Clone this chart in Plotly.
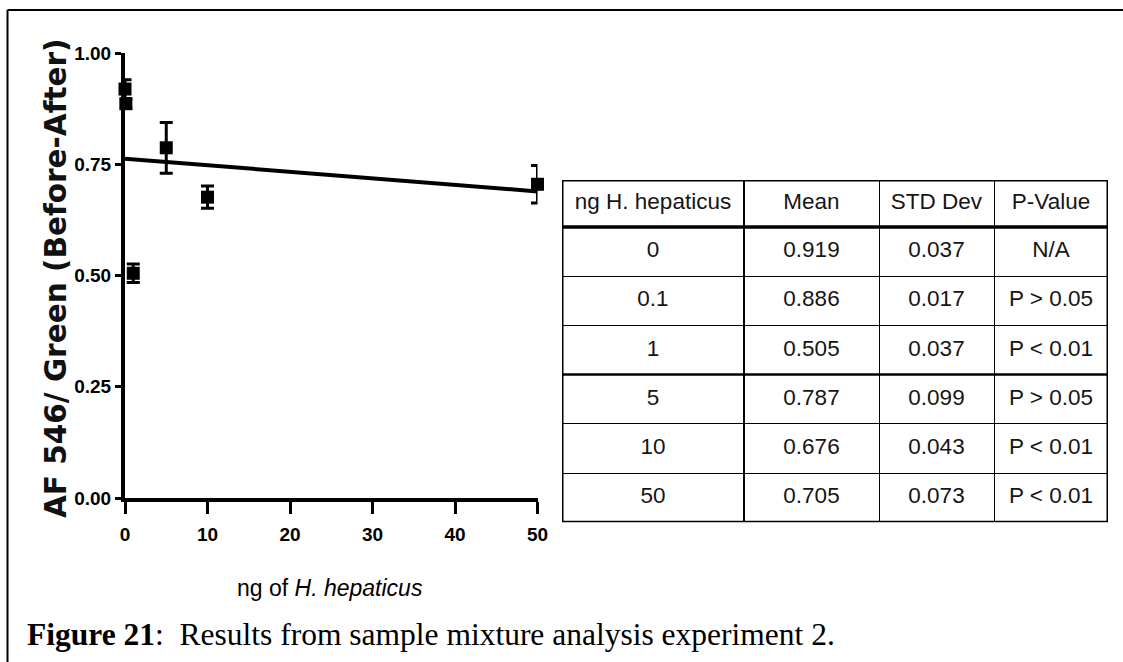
import numpy as np
import plotly.graph_objects as go

# ---- data ----
ng_amount = [0, 0.1, 1, 5, 10, 50]
mean_ratio = [0.919, 0.886, 0.505, 0.787, 0.676, 0.705]
err_ratio = [0.021, 0.010, 0.021, 0.057, 0.025, 0.042]  # error bars as drawn

table_header = ["ng H. hepaticus", "Mean", "STD Dev", "P-Value"]
table_ng = ["0", "0.1", "1", "5", "10", "50"]
table_mean = ["0.919", "0.886", "0.505", "0.787", "0.676", "0.705"]
table_sd = ["0.037", "0.017", "0.037", "0.099", "0.043", "0.073"]
table_p = ["N/A", "P > 0.05", "P < 0.01", "P > 0.05", "P < 0.01", "P < 0.01"]

x_ticks = [0, 10, 20, 30, 40, 50]
y_ticks = [0.0, 0.25, 0.5, 0.75, 1.0]
y_tick_labels = ["0.00", "0.25", "0.50", "0.75", "1.00"]

# ---- layout constants ----
W, H = 1123, 662
COL_W = [182, 135, 115, 114]   # table column widths (px)
HEAD_H = 47                    # header row height (px)
ROW_H = 49.2                   # body row height (px)
TBL_X0, TBL_Y0 = 562, 180      # table top-left (px)


def px_x(p):
    return p / W


def px_y(p):
    return 1 - p / H


# linear regression through the means
slope, intercept = np.polyfit(ng_amount, mean_ratio, 1)
fit_x = np.array([min(ng_amount), max(ng_amount)])
fit_y = slope * fit_x + intercept

fig = go.Figure()

fig.add_trace(go.Scatter(
    x=fit_x, y=fit_y, mode="lines",
    line=dict(color="black", width=4),
    showlegend=False, hoverinfo="skip", cliponaxis=False,
))

fig.add_trace(go.Scatter(
    x=ng_amount, y=mean_ratio, mode="markers",
    marker=dict(symbol="square", size=13, color="black"),
    error_y=dict(type="data", array=err_ratio, visible=True,
                 color="black", thickness=3, width=6.5),
    showlegend=False, cliponaxis=False,
))

# ---- table drawn on its own axes ----
col_edges = np.concatenate([[0], np.cumsum(COL_W)])
n_rows = len(table_ng)
row_edges = np.concatenate([[0], HEAD_H + ROW_H * np.arange(n_rows + 1)])
tbl_w = col_edges[-1]
tbl_h = row_edges[-1]

columns = [table_ng, table_mean, table_sd, table_p]
cell_x, cell_y, cell_t = [], [], []
for ci, col in enumerate(columns):
    xc = (col_edges[ci] + col_edges[ci + 1]) / 2
    cell_x.append(xc)
    cell_y.append(HEAD_H / 2)
    cell_t.append(table_header[ci])
    for ri, val in enumerate(col):
        cell_x.append(xc)
        cell_y.append((row_edges[ri + 1] + row_edges[ri + 2]) / 2)
        cell_t.append(val)

fig.add_trace(go.Scatter(
    x=cell_x, y=cell_y, text=cell_t, mode="text",
    textposition="middle center",
    textfont=dict(family="Liberation Sans, Arial, sans-serif", size=22.5,
                  color="#151515"),
    xaxis="x2", yaxis="y2", showlegend=False, hoverinfo="skip",
    cliponaxis=False,
))

tick_font = dict(family="Liberation Sans, Arial, sans-serif",
                 size=19, color="black", weight="bold")

shapes = [
    # figure frame (top and left)
    dict(type="line", xref="paper", yref="paper",
         x0=px_x(7.5), x1=1, y0=px_y(10), y1=px_y(10),
         line=dict(color="black", width=2)),
    dict(type="line", xref="paper", yref="paper",
         x0=px_x(7.5), x1=px_x(7.5), y0=px_y(10), y1=0,
         line=dict(color="black", width=2)),
    # table outer frame
    dict(type="rect", xref="x2", yref="y2",
         x0=0, x1=tbl_w, y0=0, y1=tbl_h,
         line=dict(color="black", width=3)),
    # header separator
    dict(type="line", xref="x2", yref="y2",
         x0=0, x1=tbl_w, y0=HEAD_H, y1=HEAD_H,
         line=dict(color="black", width=3.5)),
    # heavier line after first column
    dict(type="line", xref="x2", yref="y2",
         x0=col_edges[1], x1=col_edges[1], y0=0, y1=tbl_h,
         line=dict(color="black", width=2)),
    # heavier line between rows "1" and "5"
    dict(type="line", xref="x2", yref="y2",
         x0=0, x1=tbl_w, y0=row_edges[4], y1=row_edges[4],
         line=dict(color="black", width=2.5)),
]

fig.update_layout(
    width=W, height=H,
    margin=dict(l=0, r=0, t=0, b=0),
    paper_bgcolor="white", plot_bgcolor="white",
    showlegend=False,
    xaxis=dict(
        domain=[px_x(125), px_x(537.5)],
        range=[0, 50], automargin=False,
        tickmode="array", tickvals=x_ticks,
        ticks="outside", ticklen=12, tickwidth=3, tickcolor="black",
        ticklabelstandoff=4,
        showline=True, linewidth=4, linecolor="black",
        showgrid=False, zeroline=False,
        tickfont=tick_font,
    ),
    yaxis=dict(
        domain=[px_y(498), px_y(53)],
        range=[0, 1.0], automargin=False,
        tickmode="array", tickvals=y_ticks, ticktext=y_tick_labels,
        ticks="outside", ticklen=6, tickwidth=3, tickcolor="black",
        ticklabelstandoff=0,
        showline=True, linewidth=4, linecolor="black",
        showgrid=False, zeroline=False,
        tickfont=tick_font,
    ),
    xaxis2=dict(
        domain=[px_x(TBL_X0), px_x(TBL_X0 + tbl_w)],
        range=[0, tbl_w], automargin=False,
        tickmode="array", tickvals=list(col_edges),
        showgrid=True, gridcolor="black", gridwidth=1,
        showticklabels=False, ticks="", zeroline=False, showline=False,
        fixedrange=True,
    ),
    yaxis2=dict(
        domain=[px_y(TBL_Y0 + tbl_h), px_y(TBL_Y0)],
        range=[tbl_h, 0], automargin=False,
        tickmode="array", tickvals=list(row_edges),
        showgrid=True, gridcolor="black", gridwidth=1,
        showticklabels=False, ticks="", zeroline=False, showline=False,
        fixedrange=True,
    ),
    annotations=[
        dict(text="<b>AF 546/ Green (Before-After)</b>", textangle=-90,
             xref="paper", yref="paper", x=px_x(56), y=px_y(278),
             xanchor="center", yanchor="middle", showarrow=False,
             font=dict(family="DejaVu Sans, Verdana, sans-serif",
                       size=29.5, color="#111")),
        dict(text="ng of <i>H. hepaticus</i>",
             xref="paper", yref="paper", x=px_x(330), y=px_y(588),
             xanchor="center", yanchor="middle", showarrow=False,
             font=dict(family="Liberation Sans, Arial, sans-serif",
                       size=23, color="black")),
        dict(text="<b>Figure 21</b>:\u00a0 Results from sample mixture analysis experiment 2.",
             xref="paper", yref="paper", x=px_x(25), y=px_y(634),
             xanchor="left", yanchor="middle", showarrow=False,
             font=dict(family="Liberation Serif, Times New Roman, serif",
                       size=31.5, color="black")),
    ],
    shapes=shapes,
)

fig.write_html(
    "out.html",
    post_script="document.body.style.margin='0';document.body.style.overflow='hidden';",
)
